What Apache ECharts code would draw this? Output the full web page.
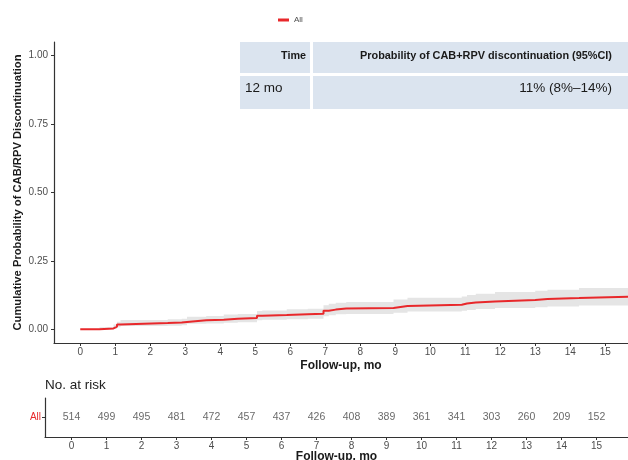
<!DOCTYPE html>
<html>
<head>
<meta charset="utf-8">
<script src="https://cdn.jsdelivr.net/npm/echarts@6/dist/echarts.min.js"></script>
<style>html,body{margin:0;padding:0;background:#fff}#c{width:628px;height:460px}</style>
</head>
<body>
<div id="c"></div>
<script>
// ---- data ----
var times = [0, 0.55, 0.95, 1.05, 1.15, 2.5, 2.9, 3.05, 3.6, 4.1, 4.5, 5.05, 5.2, 5.9, 6.5, 6.95, 7.1, 7.3, 7.6, 8.95, 9.35, 10.9, 11.05, 11.3, 11.85, 13.0, 13.35, 14.25, 15.65];
var estimate = [0, 0.003, 0.01, 0.018, 0.023, 0.025, 0.027, 0.033, 0.035, 0.039, 0.041, 0.05, 0.052, 0.055, 0.057, 0.068, 0.072, 0.076, 0.078, 0.085, 0.09, 0.094, 0.098, 0.102, 0.107, 0.111, 0.114, 0.119, 0.119];
var lower = [0, 0, 0.002, 0.008, 0.012, 0.013, 0.015, 0.02, 0.021, 0.024, 0.026, 0.033, 0.035, 0.037, 0.039, 0.048, 0.051, 0.055, 0.056, 0.061, 0.065, 0.068, 0.071, 0.074, 0.078, 0.081, 0.083, 0.087, 0.087];
var upper = [0, 0.008, 0.018, 0.028, 0.034, 0.037, 0.039, 0.046, 0.049, 0.054, 0.056, 0.067, 0.069, 0.073, 0.075, 0.088, 0.093, 0.097, 0.1, 0.109, 0.115, 0.12, 0.125, 0.13, 0.136, 0.141, 0.145, 0.151, 0.151];
var xTicks = [0, 1, 2, 3, 4, 5, 6, 7, 8, 9, 10, 11, 12, 13, 14, 15];
var yTicks = [0, 0.25, 0.5, 0.75, 1.0];
var riskTimes = [0, 1, 2, 3, 4, 5, 6, 7, 8, 9, 10, 11, 12, 13, 14, 15];
var riskCounts = [514, 499, 495, 481, 472, 457, 437, 426, 408, 389, 361, 341, 303, 260, 209, 152];
var groupNames = ['All'];
var tableHeader = ['Time', 'Probability of CAB+RPV discontinuation (95%CI)'];
var tableRow = ['12 mo', '11% (8%\u201314%)'];

var RED = '#e8282b';
var AX = '#333333';
var LBL = '#4d4d4d';
var SANS = '"Liberation Sans", Arial, sans-serif';

function pairs(xs, ys) { return xs.map(function (x, i) { return [x, ys[i]]; }); }

// confidence band drawn as one step-shaped polygon through the axis scales
function renderBand(params, api) {
  if (params.dataIndex !== 0) return null;
  var pts = [];
  var n = times.length, i;
  for (i = 0; i < n; i++) {
    pts.push(api.coord([times[i], upper[i]]));
    if (i < n - 1) pts.push(api.coord([times[i + 1], upper[i]]));
  }
  for (i = n - 1; i >= 0; i--) {
    if (i < n - 1) pts.push(api.coord([times[i + 1], lower[i]]));
    pts.push(api.coord([times[i], lower[i]]));
  }
  return { type: 'polygon', shape: { points: pts }, style: { fill: '#e5e5e5' }, silent: true };
}

var xAxisCommon = function (gi, min, max, gap) {
  return {
    type: 'value', gridIndex: gi, min: min, max: max,
    name: 'Follow-up, mo', nameLocation: 'middle', nameGap: gap, nameMoveOverlap: false,
    nameTextStyle: { fontSize: 12, fontWeight: 'bold', color: '#1a1a1a', fontFamily: SANS },
    splitLine: { show: false },
    axisLine: { show: true, onZero: false, lineStyle: { color: AX, width: 1.2 } },
    axisTick: { show: true, customValues: xTicks, length: 3, lineStyle: { color: AX } },
    axisLabel: { customValues: xTicks, fontSize: 10, color: LBL, margin: 4 }
  };
};

var chart = echarts.init(document.getElementById('c'), null, { renderer: 'canvas' });
chart.setOption({
  animation: false,
  backgroundColor: '#ffffff',
  textStyle: { fontFamily: SANS },
  legend: {
    left: 273, top: 11, itemWidth: 11, itemHeight: 3, itemGap: 4,
    icon: 'rect',
    data: [{ name: groupNames[0], itemStyle: { color: RED } }],
    textStyle: { fontSize: 8, color: LBL, fontFamily: SANS }
  },
  title: {
    text: 'No. at risk', left: 45, top: 378, padding: 0,
    textStyle: { fontSize: 13.5, fontWeight: 'normal', color: '#222', fontFamily: SANS }
  },
  graphic: [
    { type: 'rect', z: 10, shape: { x: 240, y: 42, width: 388, height: 31 }, style: { fill: '#dbe4ef' }, silent: true },
    { type: 'rect', z: 10, shape: { x: 240, y: 76, width: 388, height: 33 }, style: { fill: '#dbe4ef' }, silent: true },
    { type: 'rect', z: 11, shape: { x: 310, y: 42, width: 3, height: 67 }, style: { fill: '#ffffff' }, silent: true },
    { type: 'text', z: 12, x: 306, y: 56, style: { text: tableHeader[0], align: 'right', verticalAlign: 'middle', font: 'bold 10.8px ' + SANS, fill: '#1a1a1a' } },
    { type: 'text', z: 12, x: 612, y: 56, style: { text: tableHeader[1], align: 'right', verticalAlign: 'middle', font: 'bold 10.9px ' + SANS, fill: '#1a1a1a' } },
    { type: 'text', z: 12, x: 245, y: 88, style: { text: tableRow[0], align: 'left', verticalAlign: 'middle', font: '13.5px ' + SANS, fill: '#1a1a1a' } },
    { type: 'text', z: 12, x: 612, y: 88, style: { text: tableRow[1], align: 'right', verticalAlign: 'middle', font: '13.5px ' + SANS, fill: '#1a1a1a' } }
  ],
  grid: [
    { left: 54, right: 0, top: 42, height: 301, containLabel: false, outerBoundsMode: 'none' },
    { left: 45, right: 0, top: 398, height: 39, containLabel: false, outerBoundsMode: 'none' }
  ],
  xAxis: [
    xAxisCommon(0, -0.75, 15.65, 17),
    xAxisCommon(1, -0.757, 15.9, 13.5)
  ],
  yAxis: [
    {
      type: 'value', gridIndex: 0, min: -0.05, max: 1.05,
      name: 'Cumulative Probability of CAB/RPV Discontinuation', nameLocation: 'middle', nameGap: 31, nameMoveOverlap: false,
      nameTextStyle: { fontSize: 11.2, fontWeight: 'bold', color: '#1a1a1a', fontFamily: SANS },
      splitLine: { show: false },
      axisLine: { show: true, onZero: false, lineStyle: { color: AX, width: 1.2 } },
      axisTick: { show: true, customValues: yTicks, length: 3, lineStyle: { color: AX } },
      axisLabel: { customValues: yTicks, fontSize: 10, color: LBL, margin: 6, formatter: function (v) { return v.toFixed(2); } }
    },
    {
      type: 'category', gridIndex: 1, data: groupNames,
      axisLine: { show: true, onZero: false, lineStyle: { color: AX, width: 1.2 } },
      axisTick: { show: true, alignWithLabel: true, length: 3, lineStyle: { color: AX } },
      axisLabel: { fontSize: 10, color: RED, margin: 4 }
    }
  ],
  series: [
    {
      name: 'ciBand', type: 'custom', xAxisIndex: 0, yAxisIndex: 0,
      data: [[times[0], lower[0]]], renderItem: renderBand, silent: true, z: 1
    },
    {
      name: groupNames[0], type: 'line', xAxisIndex: 0, yAxisIndex: 0, step: 'end',
      data: pairs(times, estimate), symbol: 'none',
      lineStyle: { color: RED, width: 2 }, itemStyle: { color: RED }, z: 5
    },
    {
      name: 'risk', type: 'scatter', xAxisIndex: 1, yAxisIndex: 1,
      data: riskTimes.map(function (t) { return [t, groupNames[0]]; }),
      symbolSize: 0, silent: true,
      label: {
        show: true, position: 'inside', fontSize: 10.5, color: '#444',
        formatter: function (p) { return String(riskCounts[p.dataIndex]); }
      }
    }
  ]
});
</script>
</body>
</html>
